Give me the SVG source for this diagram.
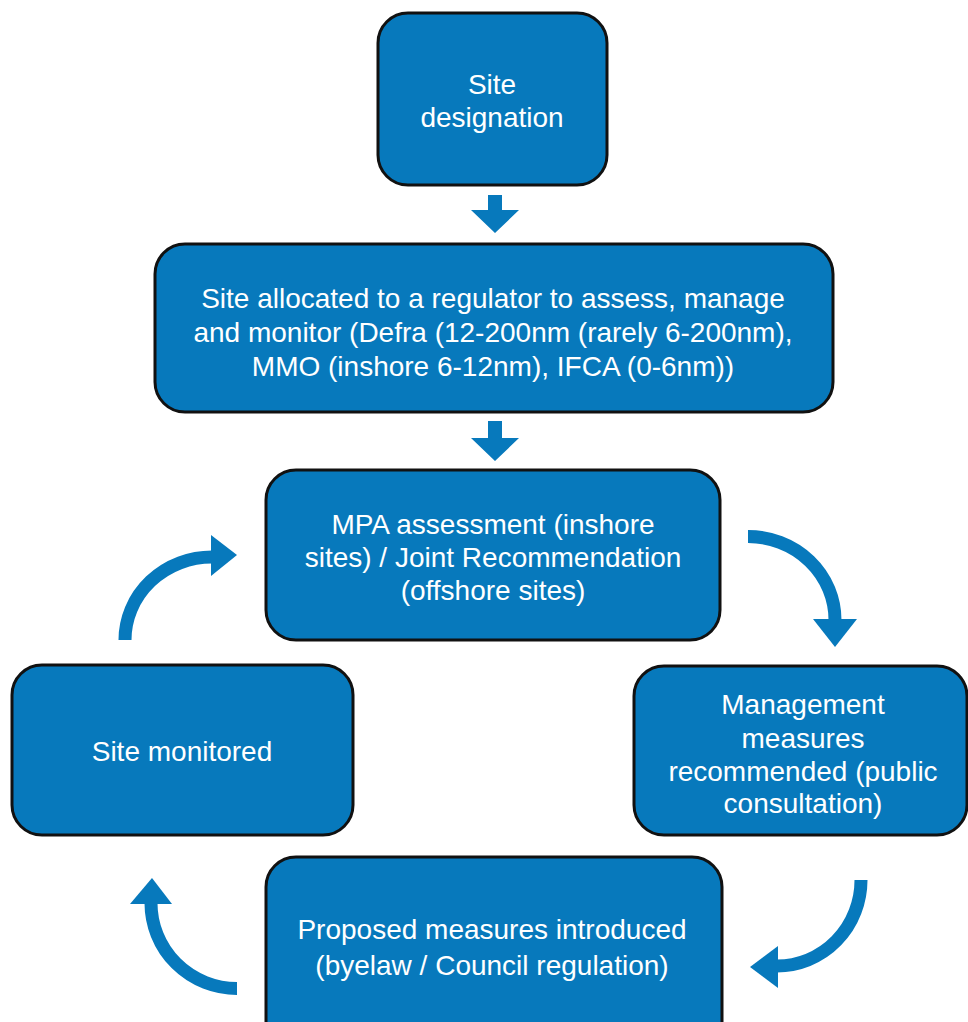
<svg xmlns="http://www.w3.org/2000/svg" width="968" height="1022" viewBox="0 0 968 1022">
<style>
.box{fill:#0779BC;stroke:#111;stroke-width:3}
.t{font-family:"Liberation Sans",Arial,sans-serif;font-size:28px;fill:#fff;text-anchor:middle}
.arc{fill:none;stroke:#0779BC;stroke-width:13}
.head{fill:#0779BC}
</style>
<rect width="968" height="1022" fill="#fff"/>
<g id="n1"><rect class="box" x="378" y="13" width="229" height="172" rx="30"/>
<text class="t" x="492" y="94">Site</text><text class="t" x="492" y="127">designation</text></g>
<g id="n2"><rect class="box" x="155" y="244" width="678" height="168" rx="30"/>
<text class="t" x="493" y="308">Site allocated to a regulator to assess, manage</text>
<text class="t" x="493" y="342">and monitor (Defra (12-200nm (rarely 6-200nm),</text>
<text class="t" x="493" y="376">MMO (inshore 6-12nm), IFCA (0-6nm))</text></g>
<g id="n3"><rect class="box" x="266" y="470" width="454" height="170" rx="30"/>
<text class="t" x="493" y="534">MPA assessment (inshore</text>
<text class="t" x="493" y="567">sites) / Joint Recommendation</text>
<text class="t" x="493" y="600">(offshore sites)</text></g>
<g id="n4"><rect class="box" x="12" y="665" width="341" height="170" rx="30"/>
<text class="t" x="182" y="761">Site monitored</text></g>
<g id="n5"><rect class="box" x="634" y="666" width="333" height="169" rx="30"/>
<text class="t" x="803" y="714">Management</text>
<text class="t" x="803" y="748">measures</text>
<text class="t" x="803" y="781">recommended (public</text>
<text class="t" x="803" y="813">consultation)</text></g>
<g id="n6"><rect class="box" x="266" y="857" width="456" height="200" rx="30"/>
<text class="t" x="492" y="939">Proposed measures introduced</text>
<text class="t" x="492" y="975">(byelaw / Council regulation)</text></g>
<g id="connectors">
<polygon class="head" points="488,195 502,195 502,210 519,210 495,233 471,210 488,210"/>
<polygon class="head" points="488,421 502,421 502,438 519,438 495,461 471,438 488,438"/>
<path class="arc" d="M748 536.5 A87 83.5 0 0 1 835 620"/>
<polygon class="head" points="813,619 857,619 835,647"/>
<path class="arc" d="M861 880 A84 86 0 0 1 777 966"/>
<polygon class="head" points="778,946 778,988 750,967"/>
<path class="arc" d="M237 988.5 A86 85.5 0 0 1 151 903"/>
<polygon class="head" points="130,904 172,904 152,878"/>
<path class="arc" d="M125 640 A87 83 0 0 1 212 557"/>
<polygon class="head" points="211,535 211,576 237,555"/>
</g>
</svg>
